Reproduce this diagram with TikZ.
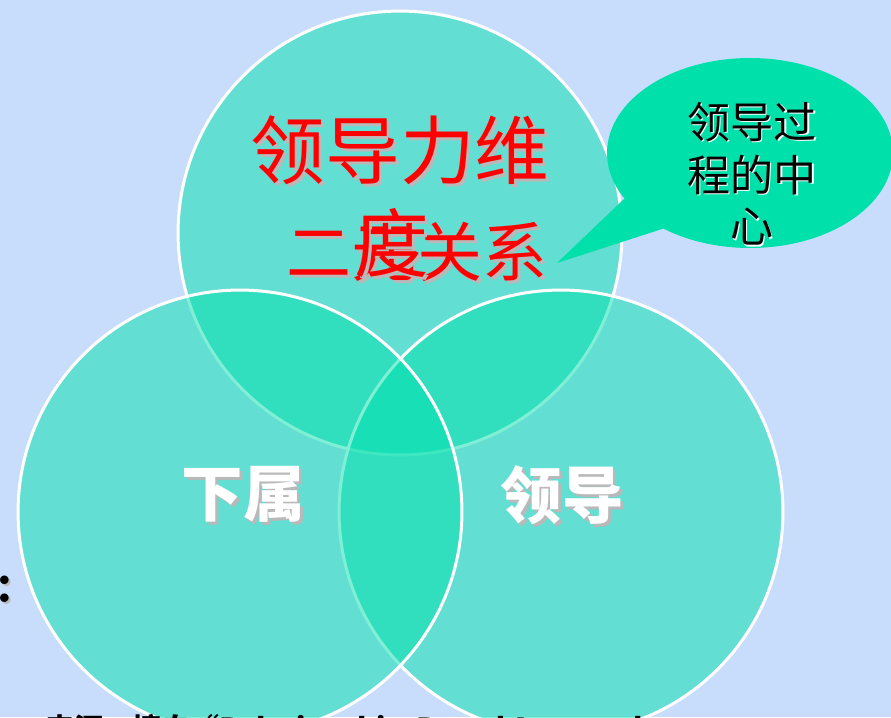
\documentclass[tikz,border=0pt]{standalone}
\usepackage{fontspec}
\newfontfamily\cjk{Noto Sans CJK SC}
\usepackage{tikz}
\usetikzlibrary{shapes.geometric}
\definecolor{bgblue}{RGB}{200,221,251}
\definecolor{ringfill}{RGB}{0,224,173}
\definecolor{bubblegreen}{RGB}{0,224,170}
\definecolor{shadowgray}{RGB}{185,185,185}
\tikzstyle{ring} = [circle, draw=white, line width=0.06cm, fill=ringfill, fill opacity=0.5, minimum size=8.88cm]
\tikzstyle{redtxt} = [text=red]
\tikzstyle{whitetxt} = [text=white]
\tikzstyle{greytxt} = [text=shadowgray]
\tikzstyle{titlefont} = [font=\cjk\fontsize{42.5pt}{44pt}\selectfont]
\tikzstyle{subfont} = [font=\cjk\fontsize{37pt}{40pt}\selectfont]
\tikzstyle{labelfont} = [font=\cjk\bfseries\fontsize{35pt}{38pt}\selectfont]
\tikzstyle{bubblefont} = [font=\cjk\fontsize{24.5pt}{29.6pt}\selectfont]

\begin{document}
\begin{tikzpicture}[x=0.02cm, y=-0.02cm, inner sep=0pt, font=\cjk]
        \useasboundingbox (0,0) rectangle (891,717);
        \clip (0,0) rectangle (891,717);
        \fill[bgblue] (0,0) rectangle (891,717);

        % Circles
        \node[ring] (tcirc) at (400,233) {};
        \node[ring] (rcirc) at (561,512) {};
        \node[ring] (lcirc) at (240,512) {};

        % Callout
        \node[ellipse, fill=bubblegreen, minimum width=5.72cm, minimum height=3.8cm] (bubble) at (750,153) {};
        \coordinate (tip) at (557,263);
        \fill[bubblegreen] (tip) -- (bubble.200) -- (bubble.center) -- (bubble.221) -- cycle;

        % Callout text
        \node[bubblefont, text=white] (bline1s) at (753.5,123.5) {领导过};
        \node[bubblefont] (bline1) at (752,122) {领导过};
        \node[bubblefont, text=white] (bline2s) at (753.5,176.5) {程的中};
        \node[bubblefont] (bline2) at (752,175) {程的中};
        \node[bubblefont, text=white] (bline3s) at (753.5,228.5) {心};
        \node[bubblefont] (bline3) at (752,227) {心};

        % Title
        \node[titlefont, greytxt] (title1s) at (403,153) {领导力维};
        \node[titlefont, redtxt] (title1) at (400,150) {领导力维};
        \node[subfont, greytxt] (title2s) at (420,255) {二元关系};
        \node[subfont, redtxt] (title2) at (417,252) {二元关系};
        \node[titlefont, greytxt] (title3s) at (395,246) {度};
        \node[titlefont, redtxt] (title3) at (392,243) {度};

        % Labels
        \node[labelfont, greytxt] (subs) at (246,497) {下属};
        \node[labelfont, whitetxt] (sub) at (243,494) {下属};
        \node[labelfont, greytxt] (leads) at (565,498) {领导};
        \node[labelfont, whitetxt] (lead) at (562,495) {领导};

        % Cut-off text
        \node[anchor=base east, font=\bfseries\fontsize{34pt}{36pt}\selectfont, greytxt] (colons) at (17,604) {:};
        \node[anchor=base east, font=\bfseries\fontsize{34pt}{36pt}\selectfont] (colon) at (15,602) {:};
        \node[anchor=base west, font=\cjk\bfseries\fontsize{16.5pt}{18pt}\selectfont] (source) at (45,739) {来源：摘自“Relationship-Based Approach to};
\end{tikzpicture}
\end{document}
